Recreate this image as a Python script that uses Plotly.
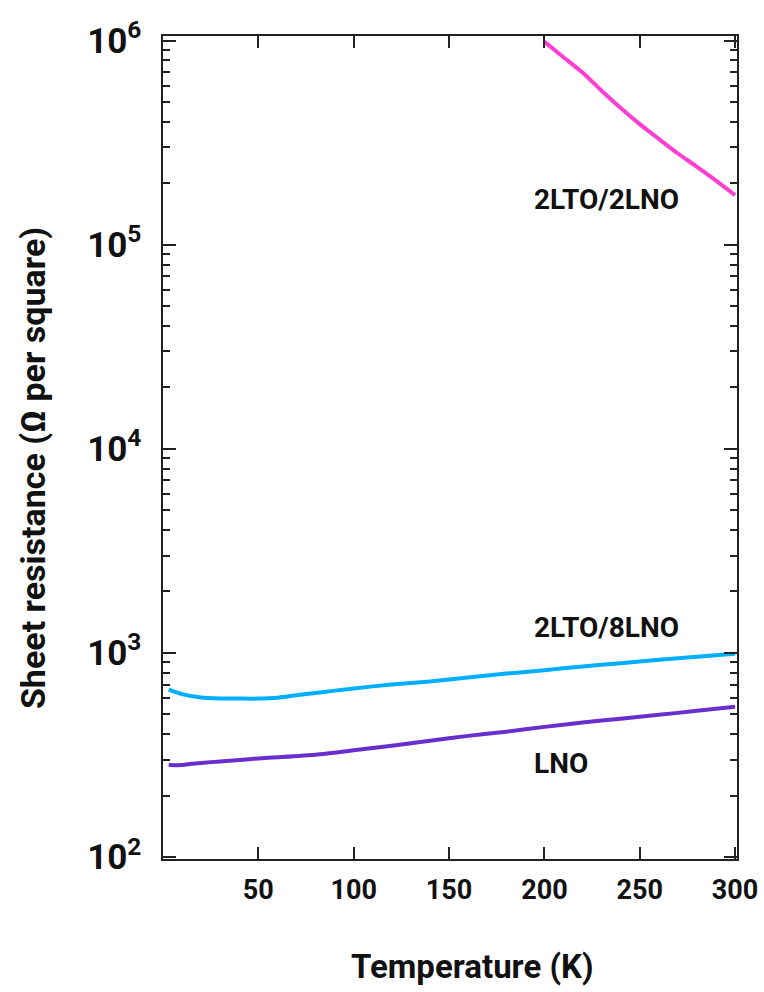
import math
import plotly.graph_objects as go

# Temperature (K) and sheet resistance (ohm per square)
T_lno = [3, 10, 15, 20, 30, 40, 50, 60, 80, 100, 120, 140, 160, 180, 200, 220, 240, 260, 280, 300]
R_lno = [282, 282, 286, 289, 294, 299, 304, 308, 317, 333, 351, 371, 392, 411, 434, 456, 476, 497, 520, 545]

T_8lno = [3, 10, 20, 30, 40, 50, 60, 70, 80, 100, 120, 140, 160, 180, 200, 220, 240, 260, 280, 300]
R_8lno = [660, 628, 604, 598, 597, 597, 603, 620, 636, 670, 700, 724, 757, 792, 822, 858, 890, 925, 958, 990]

T_2lno = [200, 210, 220, 230, 240, 250, 260, 270, 280, 290, 300]
R_2lno = [990000, 830000, 698000, 569000, 468000, 390000, 330000, 280000, 241000, 206000, 175000]

labels = ["2LTO/2LNO", "2LTO/8LNO", "LNO"]
label_T = [193.5, 193.5, 193.5]
label_R = [1.66e5, 1.33e3, 2.88e2]

x_ticks = [50, 100, 150, 200, 250, 300]

FONT = "Roboto, Liberation Sans, sans-serif"
INK = "#111111"

fig = go.Figure()
fig.add_trace(go.Scatter(x=T_2lno, y=R_2lno, mode="lines",
                         line=dict(color="#FF3FD2", width=4, shape="spline", smoothing=0.6), name="2LTO/2LNO"))
fig.add_trace(go.Scatter(x=T_8lno, y=R_8lno, mode="lines",
                         line=dict(color="#00AEFF", width=4, shape="spline", smoothing=0.6), name="2LTO/8LNO"))
fig.add_trace(go.Scatter(x=T_lno, y=R_lno, mode="lines",
                         line=dict(color="#6A2ECF", width=4, shape="spline", smoothing=0.6), name="LNO"))

for txt, tx, ty in zip(labels, label_T, label_R):
    fig.add_annotation(x=tx, y=math.log10(ty), text=txt, showarrow=False,
                       xanchor="left", yanchor="middle",
                       font=dict(family=FONT, size=28, color=INK, weight="bold"))

fig.add_annotation(xref="paper", yref="paper", x=0.54, y=-0.131, text="Temperature (K)",
                   showarrow=False, xanchor="center", yanchor="middle",
                   font=dict(family=FONT, size=33, color=INK, weight="bold"))
fig.add_annotation(xref="paper", yref="paper", x=-0.2265, y=0.475, text="Sheet resistance (Ω per square)",
                   showarrow=False, xanchor="center", yanchor="middle", textangle=-90,
                   font=dict(family=FONT, size=34, color=INK, weight="bold"))

fig.update_layout(
    width=764, height=992,
    margin=dict(l=163, r=27, t=36, b=133),
    paper_bgcolor="white", plot_bgcolor="white",
    showlegend=False,
    font=dict(family=FONT, color=INK),
)
fig.update_xaxes(
    range=[0, 301], tickvals=x_ticks, ticks="inside", ticklen=12, tickwidth=2,
    tickcolor="#222222", showline=True, linecolor="#222222", linewidth=2,
    mirror="ticks", showgrid=False, zeroline=False, ticklabelstandoff=6,
    automargin=False,
    tickfont=dict(family=FONT, size=27, color=INK, weight="bold"),
)
fig.update_yaxes(
    type="log", range=[1.99, 6.023], dtick=1, exponentformat="power",
    ticks="inside", ticklen=13, tickwidth=2, tickcolor="#222222",
    showline=True, linecolor="#222222", linewidth=2, mirror="ticks",
    showgrid=False, zeroline=False, ticklabelstandoff=14, automargin=False,
    minor=dict(ticks="inside", ticklen=7, tickwidth=2, tickcolor="#222222", dtick="D1", showgrid=False),
    tickfont=dict(family=FONT, size=28, color=INK, weight="bold"),
)

fig.write_html("out.html", config={"displayModeBar": False},
               post_script="document.body.style.margin='0';document.body.style.overflow='hidden';")
